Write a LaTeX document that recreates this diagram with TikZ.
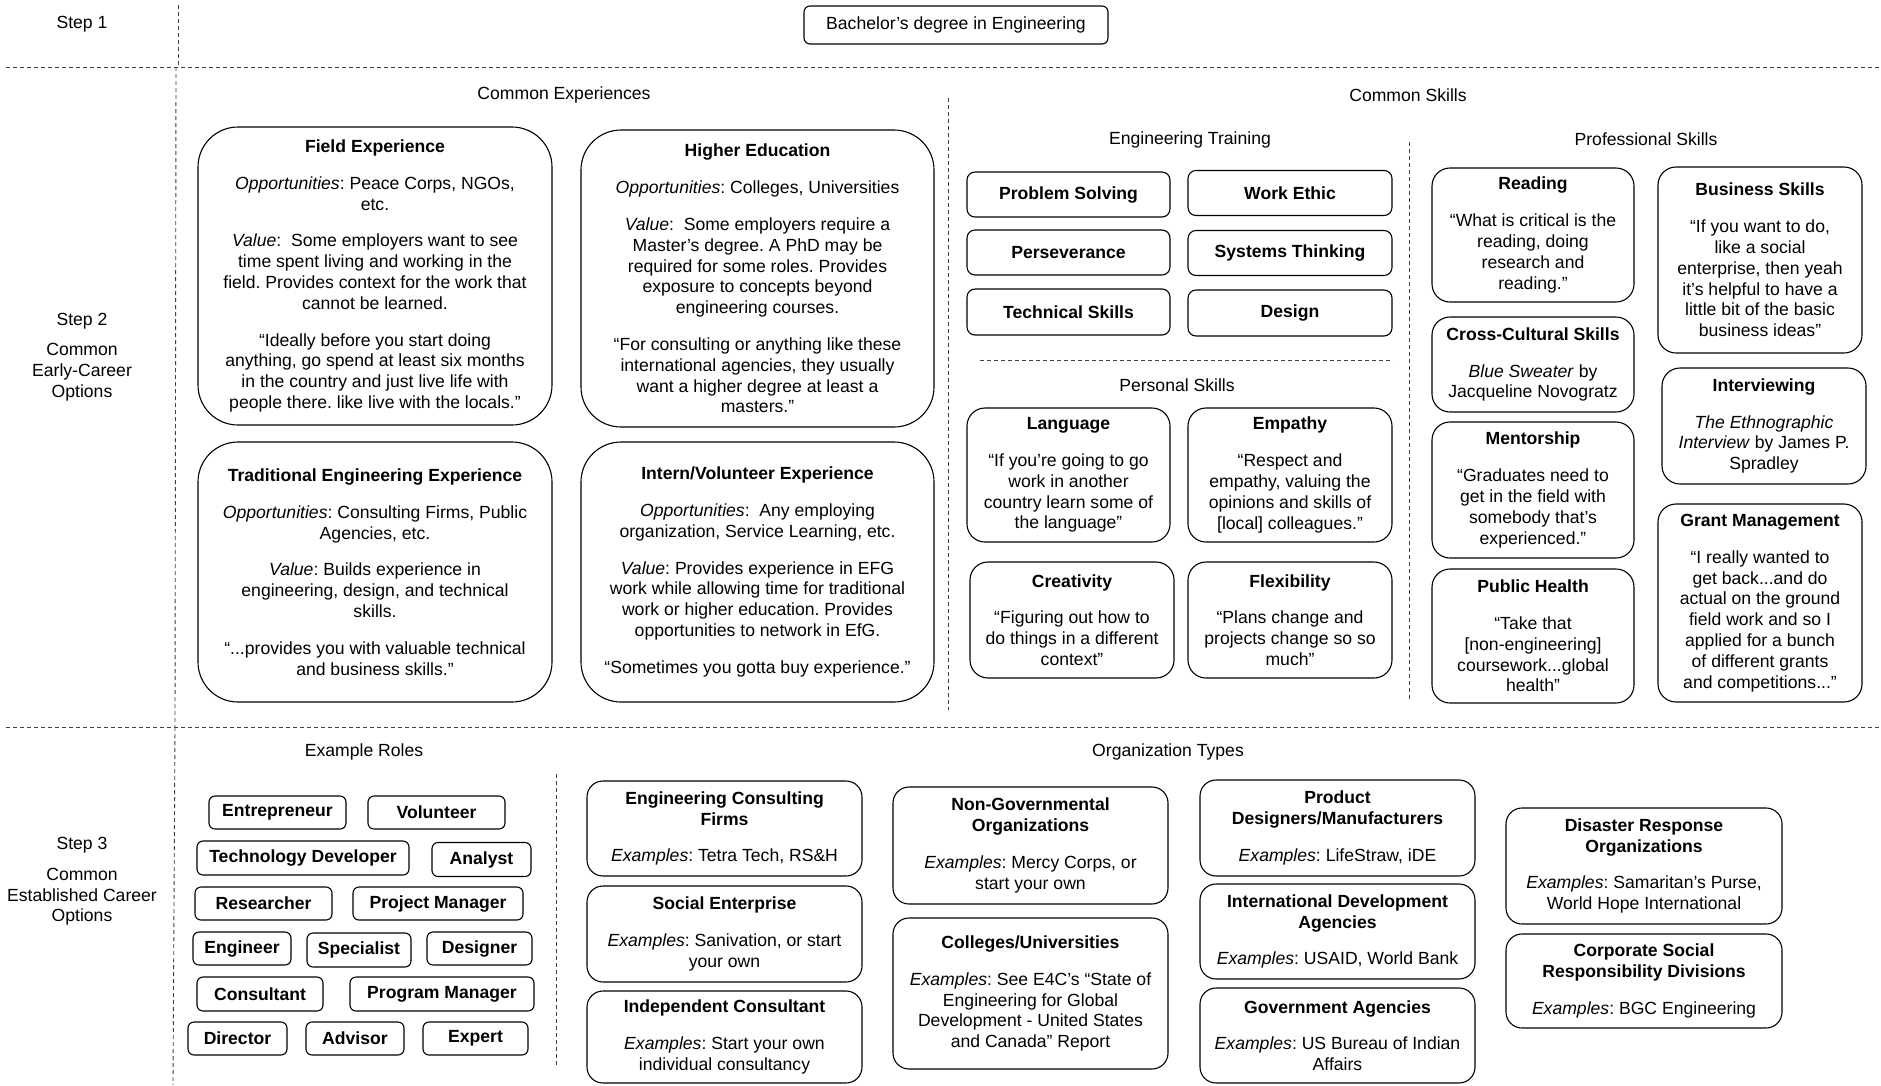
\documentclass[tikz,border=0pt]{standalone}
\usepackage{fontspec}
\setmainfont{Liberation Sans}
\frenchspacing
\newcommand{\myskip}{\\[16pt]}
\newcommand{\myfont}{\fontsize{17.6}{20.8}\selectfont}
\begin{document}
\begin{tikzpicture}[x=1pt,y=-1pt,
  every node/.style={font=\myfont, align=center, inner sep=0pt},
  box/.style={draw, line width=1.1pt},
  bigbox/.style={box, rounded corners=40pt},
  midbox/.style={box, rounded corners=18pt},
  skillbox/.style={box, rounded corners=8pt, font=\myfont\bfseries},
  rolebox/.style={box, rounded corners=6pt, font=\myfont\bfseries},
  orgbox/.style={box, rounded corners=16pt},
  sepline/.style={line width=0.9pt, dash pattern=on 4pt off 3pt, black!75}]
\fill[white] (0,0) rectangle (1881,1085);
\useasboundingbox (0,0) rectangle (1881,1085);

% separators
\draw[sepline] (6,67) -- (1881,67);
\draw[sepline] (6,727) -- (1881,727);
\draw[sepline] (178,5) -- (178,67);
\draw[sepline] (176,67) -- (175,727);
\draw[sepline] (175,727) -- (173,1085);
\draw[sepline] (948,98) -- (948,710);
\draw[sepline] (1409,142) -- (1409,700);
\draw[sepline] (980,360) -- (1393,360);
\draw[sepline] (556,774) -- (556,1068);

% step labels
\node (s1) at (82,24) {Step 1};
\node (s2) at (82,357) {Step 2\\[9.6pt]Common\\Early-Career\\Options};
\node (s3) at (82,881.5) {Step 3\\[9.6pt]Common\\Established Career\\Options};

% step 1
\node[box, rounded corners=6pt, minimum width=304, minimum height=38] (bach) at (956,25) {Bachelor’s degree in Engineering};

% section titles
\node (tce) at (564,95) {Common Experiences};
\node (tcs) at (1408,95) {Common Skills};
\node (tet) at (1190,140) {Engineering Training};
\node (tps) at (1646,139) {Professional Skills};
\node (tpe) at (1177,385) {Personal Skills};
\node (ter) at (364,752) {Example Roles};
\node (tot) at (1168,752) {Organization Types};

% common experiences
\node[bigbox, minimum width=354, minimum height=298] (field) at (375,276) {\textbf{Field Experience}\myskip
\textit{Opportunities}: Peace Corps, NGOs,\\ etc.\myskip
\textit{Value}:~ Some employers want to see\\ time spent living and working in the\\ field. Provides context for the work that\\ cannot be learned.\myskip
“Ideally before you start doing\\ anything, go spend at least six months\\ in the country and just live life with\\ people there. like live with the locals.”};

\node[bigbox, minimum width=353, minimum height=297] (higher) at (757.5,278.5) {\textbf{Higher Education}\myskip
\textit{Opportunities}: Colleges, Universities\myskip
\textit{Value}:~ Some employers require a\\ Master’s degree. A PhD may be\\ required for some roles. Provides\\ exposure to concepts beyond\\ engineering courses.\myskip
“For consulting or anything like these\\ international agencies, they usually\\ want a higher degree at least a\\ masters.”};

\node[bigbox, minimum width=354, minimum height=260] (trad) at (375,572) {\textbf{Traditional Engineering Experience}\myskip
\textit{Opportunities}: Consulting Firms, Public\\ Agencies, etc.\myskip
\textit{Value}: Builds experience in\\ engineering, design, and technical\\ skills.\myskip
“...provides you with valuable technical\\ and business skills.”};

\node[bigbox, minimum width=353, minimum height=260] (intern) at (757.5,572) {\textbf{Intern/Volunteer Experience}\myskip
\textit{Opportunities}:~ Any employing\\ organization, Service Learning, etc.\myskip
\textit{Value}: Provides experience in EFG\\ work while allowing time for traditional\\ work or higher education. Provides\\ opportunities to network in EfG.\myskip
“Sometimes you gotta buy experience.”};

% engineering training
\node[skillbox, minimum width=203, minimum height=45] (ps) at (1068.5,194.5) {Problem Solving};
\node[skillbox, minimum width=204, minimum height=45] (we) at (1290,193) {Work Ethic};
\node[skillbox, minimum width=203, minimum height=45] (pv) at (1068.5,252.5) {Perseverance};
\node[skillbox, minimum width=204, minimum height=45] (st) at (1290,253) {Systems Thinking};
\node[skillbox, minimum width=203, minimum height=46] (ts) at (1068.5,312) {Technical Skills};
\node[skillbox, minimum width=204, minimum height=46] (de) at (1290,313) {Design};

% personal skills
\node[midbox, minimum width=203, minimum height=134] (lang) at (1068.5,475) {\textbf{Language}\myskip “If you’re going to go\\ work in another\\ country learn some of\\ the language”};
\node[midbox, minimum width=204, minimum height=134] (emp) at (1290,475) {\textbf{Empathy}\myskip “Respect and\\ empathy, valuing the\\ opinions and skills of\\ {[local]} colleagues.”};
\node[midbox, minimum width=204, minimum height=116] (cre) at (1072,620) {\textbf{Creativity}\myskip “Figuring out how to\\ do things in a different\\ context”};
\node[midbox, minimum width=204, minimum height=116] (flex) at (1290,620) {\textbf{Flexibility}\myskip “Plans change and\\ projects change so so\\ much”};

% professional skills
\node[midbox, minimum width=202, minimum height=134] (read) at (1533,235) {\textbf{Reading}\myskip “What is critical is the\\ reading, doing\\ research and\\ reading.”};
\node[midbox, minimum width=204, minimum height=186] (bus) at (1760,260) {\textbf{Business Skills}\myskip “If you want to do,\\ like a social\\ enterprise, then yeah\\ it’s helpful to have a\\ little bit of the basic\\ business ideas”};
\node[midbox, minimum width=202, minimum height=95] (cross) at (1533,364.5) {\textbf{Cross-Cultural Skills}\myskip \textit{Blue Sweater} by\\ Jacqueline Novogratz};
\node[midbox, minimum width=204, minimum height=116] (intv) at (1764,426) {\textbf{Interviewing}\myskip \textit{The Ethnographic}\\ \textit{Interview} by James P.\\ Spradley};
\node[midbox, minimum width=202, minimum height=136] (ment) at (1533,490) {\textbf{Mentorship}\myskip “Graduates need to\\ get in the field with\\ somebody that’s\\ experienced.”};
\node[midbox, minimum width=204, minimum height=198] (grant) at (1760,603) {\textbf{Grant Management}\myskip “I really wanted to\\ get back...and do\\ actual on the ground\\ field work and so I\\ applied for a bunch\\ of different grants\\ and competitions...”};
\node[midbox, minimum width=202, minimum height=134] (ph) at (1533,636) {\textbf{Public Health}\myskip “Take that\\ {[non-engineering]}\\ coursework...global\\ health”};

% roles
\node[rolebox, minimum width=137, minimum height=33] (r1) at (277.5,812.5) {Entrepreneur};
\node[rolebox, minimum width=137, minimum height=33] (r2) at (436.5,812.5) {Volunteer};
\node[rolebox, minimum width=212, minimum height=34] (r3) at (303,858) {Technology Developer};
\node[rolebox, minimum width=99, minimum height=34] (r4) at (481.5,859.5) {Analyst};
\node[rolebox, minimum width=137, minimum height=33] (r5) at (263.5,903.5) {Researcher};
\node[rolebox, minimum width=170, minimum height=33] (r6) at (438,903.5) {Project Manager};
\node[rolebox, minimum width=98, minimum height=33] (r7) at (242,948.5) {Engineer};
\node[rolebox, minimum width=104, minimum height=34] (r8) at (359,950) {Specialist};
\node[rolebox, minimum width=105, minimum height=33] (r9) at (479.5,948.5) {Designer};
\node[rolebox, minimum width=126, minimum height=34] (r10) at (260,994) {Consultant};
\node[rolebox, minimum width=184, minimum height=34] (r11) at (442,994) {Program Manager};
\node[rolebox, minimum width=99, minimum height=33] (r12) at (237.5,1038.5) {Director};
\node[rolebox, minimum width=98, minimum height=33] (r13) at (355,1038.5) {Advisor};
\node[rolebox, minimum width=105, minimum height=33] (r14) at (475.5,1038.5) {Expert};

% organization types
\node[orgbox, minimum width=275, minimum height=95] (o1) at (724.5,828.5) {\textbf{Engineering Consulting}\\ \textbf{Firms}\myskip \textit{Examples}: Tetra Tech, RS\&H};
\node[orgbox, minimum width=275, minimum height=96] (o2) at (724.5,934) {\textbf{Social Enterprise}\myskip \textit{Examples}: Sanivation, or start\\ your own};
\node[orgbox, minimum width=275, minimum height=92] (o3) at (724.5,1037) {\textbf{Independent Consultant}\myskip \textit{Examples}: Start your own\\ individual consultancy};
\node[orgbox, minimum width=275, minimum height=117] (o4) at (1030.5,845.5) {\textbf{Non-Governmental}\\ \textbf{Organizations}\myskip \textit{Examples}: Mercy Corps, or\\ start your own};
\node[orgbox, minimum width=275, minimum height=151] (o5) at (1030.5,993.5) {\textbf{Colleges/Universities}\myskip \textit{Examples}: See E4C’s “State of\\ Engineering for Global\\ Development - United States\\ and Canada” Report};
\node[orgbox, minimum width=275, minimum height=96] (o6) at (1337.5,828) {\textbf{Product}\\ \textbf{Designers/Manufacturers}\myskip \textit{Examples}: LifeStraw, iDE};
\node[orgbox, minimum width=275, minimum height=95] (o7) at (1337.5,931.5) {\textbf{International Development}\\ \textbf{Agencies}\myskip \textit{Examples}: USAID, World Bank};
\node[orgbox, minimum width=275, minimum height=95] (o8) at (1337.5,1035.5) {\textbf{Government Agencies}\myskip \textit{Examples}: US Bureau of Indian\\ Affairs};
\node[orgbox, minimum width=276, minimum height=116] (o9) at (1644,866) {\textbf{Disaster Response}\\ \textbf{Organizations}\myskip \textit{Examples}: Samaritan’s Purse,\\ World Hope International};
\node[orgbox, minimum width=276, minimum height=94] (o10) at (1644,981) {\textbf{Corporate Social}\\ \textbf{Responsibility Divisions}\myskip \textit{Examples}: BGC Engineering};
\end{tikzpicture}
\end{document}
